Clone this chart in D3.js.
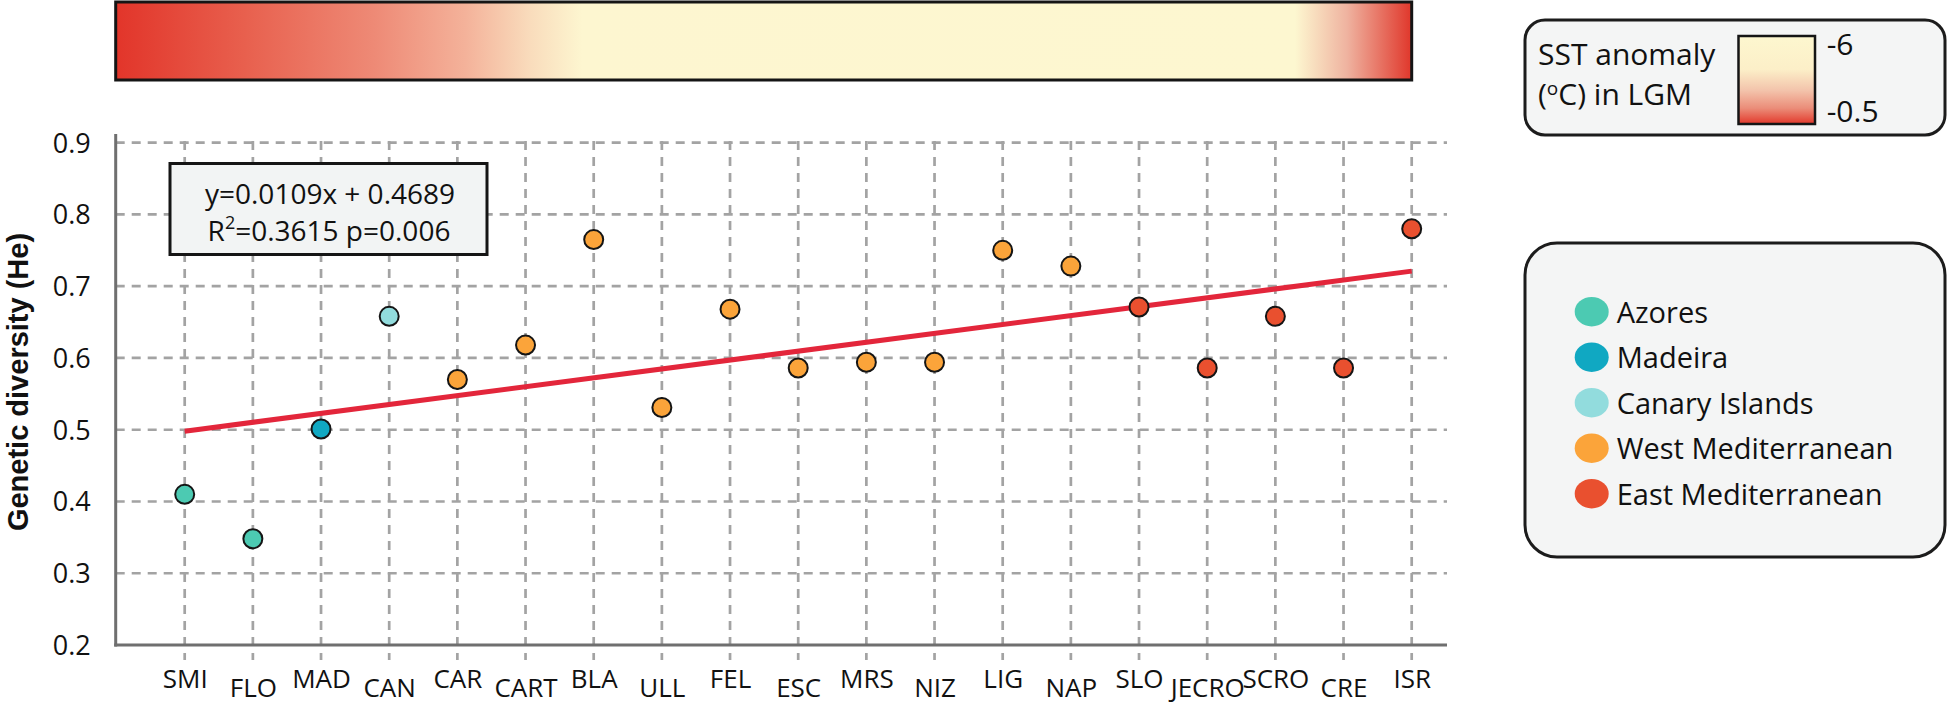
<!DOCTYPE html>
<html>
<head>
<meta charset="utf-8">
<script src="https://cdn.jsdelivr.net/npm/d3@7"></script>
<style>
  html, body { margin: 0; padding: 0; background: #ffffff; }
  svg { display: block; }
</style>
</head>
<body>
<script>
// ---------------- DATA ----------------
const categories = ["SMI","FLO","MAD","CAN","CAR","CART","BLA","ULL","FEL","ESC","MRS","NIZ","LIG","NAP","SLO","JECRO","SCRO","CRE","ISR"];
const heValues   = [0.410,0.348,0.501,0.658,0.570,0.618,0.765,0.531,0.668,0.586,0.594,0.594,0.750,0.728,0.671,0.586,0.658,0.586,0.780];
const siteRegion = ["Azores","Azores","Madeira","Canary Islands",
  "West Mediterranean","West Mediterranean","West Mediterranean","West Mediterranean","West Mediterranean",
  "West Mediterranean","West Mediterranean","West Mediterranean","West Mediterranean","West Mediterranean",
  "East Mediterranean","East Mediterranean","East Mediterranean","East Mediterranean","East Mediterranean"];
const legendNames  = ["Azores","Madeira","Canary Islands","West Mediterranean","East Mediterranean"];
const legendColors = ["#4ccab2","#10a8c2","#92dcdd","#fba43a","#e9502f"];
const yTicks = [0.2,0.3,0.4,0.5,0.6,0.7,0.8,0.9];
const trendValues = [0.498, 0.721];           // fitted He at first and last site
const equationLines = ["y=0.0109x + 0.4689", "=0.3615 p=0.006"];
// SST anomaly colour bar along the sites (offset along bar, colour)
const sstBarOffsets = [0, 0.10, 0.20, 0.27, 0.32, 0.36, 0.91, 0.95, 1];
const sstBarColors  = ["#e2352a","#e8604e","#ee8a76","#f4b29a","#f9dcbc","#fdf6d0","#fdf7d0","#efb3a0","#e0372b"];
const sstLegendOffsets = [0, 0.38, 0.62, 0.82, 1];
const sstLegendColors  = ["#fdf7cf","#fcefc8","#f3c3ab","#eb8d79","#e2382b"];
const sstLegendTicks = ["-6","-0.5"];

// ---------------- LAYOUT ----------------
const W = 1947, H = 705;
const fontMain = "'Open Sans', 'Noto Sans', sans-serif";
const svg = d3.select("body").append("svg").attr("width", W).attr("height", H)
  .style("background", "#fff");

const axisX = 115.7, axisY = 645, plotRight = 1447;
const x = d3.scalePoint().domain(categories).range([184.7, 1411.7]);
const y = d3.scaleLinear().domain([0.2, 0.9]).range([645, 142.7]);

const defs = svg.append("defs");
const g1 = defs.append("linearGradient").attr("id","sstBar").attr("x1","0%").attr("x2","100%").attr("y1","0%").attr("y2","0%");
sstBarOffsets.forEach((o,i)=> g1.append("stop").attr("offset", o).attr("stop-color", sstBarColors[i]));
const g2 = defs.append("linearGradient").attr("id","sstLeg").attr("x1","0%").attr("x2","0%").attr("y1","0%").attr("y2","100%");
sstLegendOffsets.forEach((o,i)=> g2.append("stop").attr("offset", o).attr("stop-color", sstLegendColors[i]));

// colour bar
svg.append("rect").attr("x", axisX).attr("y", 2)
  .attr("width", x(categories[categories.length-1]) - axisX).attr("height", 78)
  .attr("fill","url(#sstBar)").attr("stroke","#151515").attr("stroke-width",3);

// gridlines
const gridColor = "#a3a3a3";
svg.append("g").selectAll("line").data(yTicks.filter(t=>t>0.2)).join("line")
  .attr("x1", axisX).attr("x2", plotRight)
  .attr("y1", d=>y(d)).attr("y2", d=>y(d))
  .attr("stroke", gridColor).attr("stroke-width", 2.7).attr("stroke-dasharray","9,7");
svg.append("g").selectAll("line").data(categories).join("line")
  .attr("x1", d=>x(d)).attr("x2", d=>x(d))
  .attr("y1", 141).attr("y2", 660)
  .attr("stroke", gridColor).attr("stroke-width", 2.7).attr("stroke-dasharray","9,7");

// axes lines
svg.append("line").attr("x1", axisX).attr("x2", axisX).attr("y1", 134).attr("y2", axisY+1.5)
  .attr("stroke","#6f6f6f").attr("stroke-width",3);
svg.append("line").attr("x1", axisX-1.5).attr("x2", plotRight).attr("y1", axisY).attr("y2", axisY)
  .attr("stroke","#6f6f6f").attr("stroke-width",3);

// y axis labels
const yAxis = svg.append("g").attr("transform", `translate(${axisX},0)`)
  .call(d3.axisLeft(y).tickValues(yTicks).tickFormat(d3.format(".1f")).tickSize(0).tickPadding(25));
yAxis.select(".domain").remove();
yAxis.selectAll("text").attr("font-family", fontMain).attr("font-size", 27).attr("fill","#111")
  .attr("dy","0.35em");

// x axis labels
const xAxis = svg.append("g").attr("transform", `translate(0,${axisY})`)
  .call(d3.axisBottom(x).tickSize(0));
xAxis.select(".domain").remove();
xAxis.selectAll("text").attr("font-family", fontMain).attr("font-size", 26).attr("fill","#111")
  .attr("dy", null)
  .attr("y", (d,i)=> i % 2 === 0 ? 43 : 52);

// y title
svg.append("text").attr("transform","translate(28,382) rotate(-90)")
  .attr("text-anchor","middle").attr("font-family","'Liberation Sans', Arial, sans-serif")
  .attr("font-weight","bold").attr("font-size",29).attr("fill","#111")
  .text("Genetic diversity (He)");

// trend line
svg.append("line")
  .attr("x1", x(categories[0])).attr("y1", y(trendValues[0]))
  .attr("x2", x(categories[categories.length-1])).attr("y2", y(trendValues[1]))
  .attr("stroke","#e3263b").attr("stroke-width",5);

// points
const color = d3.scaleOrdinal().domain(legendNames).range(legendColors);
svg.append("g").selectAll("circle").data(categories).join("circle")
  .attr("cx", d=>x(d)).attr("cy", (d,i)=>y(heValues[i]))
  .attr("r", 9.5).attr("fill", (d,i)=>color(siteRegion[i]))
  .attr("stroke","#151515").attr("stroke-width",2);

// equation box
svg.append("rect").attr("x",170).attr("y",163.5).attr("width",317).attr("height",91)
  .attr("fill","#f2f4f4").attr("stroke","#151515").attr("stroke-width",3);
svg.append("text").attr("x",330).attr("y",204).attr("text-anchor","middle")
  .attr("font-family",fontMain).attr("font-size",28).attr("fill","#111").text(equationLines[0]);
const eq2 = svg.append("text").attr("x",329).attr("y",241).attr("text-anchor","middle")
  .attr("font-family",fontMain).attr("font-size",28).attr("fill","#111");
eq2.append("tspan").text("R");
eq2.append("tspan").attr("dy",-12).attr("font-size",18).text("2");
eq2.append("tspan").attr("dy",12).text(equationLines[1]);

// SST legend box
svg.append("rect").attr("x",1525).attr("y",20).attr("width",420).attr("height",115).attr("rx",20)
  .attr("fill","#f4f5f5").attr("stroke","#1c1c1c").attr("stroke-width",3);
svg.append("text").attr("x",1538).attr("y",65).attr("font-family",fontMain).attr("font-size",30)
  .attr("fill","#111").text("SST anomaly");
const lg2 = svg.append("text").attr("x",1538).attr("y",105).attr("font-family",fontMain).attr("font-size",30)
  .attr("fill","#111");
lg2.append("tspan").text("(");
lg2.append("tspan").attr("dy",-10).attr("font-size",19).text("o");
lg2.append("tspan").attr("dy",10).text("C) in LGM");
svg.append("rect").attr("x",1738.5).attr("y",36).attr("width",76.5).attr("height",88)
  .attr("fill","url(#sstLeg)").attr("stroke","#151515").attr("stroke-width",2.5);
svg.append("g").selectAll("text").data(sstLegendTicks).join("text")
  .attr("x",1826.7).attr("y",(d,i)=> i===0 ? 55 : 122)
  .attr("font-family",fontMain).attr("font-size",30).attr("fill","#111").text(d=>d);

// region legend
svg.append("rect").attr("x",1525).attr("y",243).attr("width",420).attr("height",314).attr("rx",32)
  .attr("fill","#f4f5f5").attr("stroke","#1c1c1c").attr("stroke-width",3);
const leg = svg.append("g").selectAll("g").data(legendNames).join("g")
  .attr("transform",(d,i)=>`translate(0,${311.7 + i*45.5})`);
leg.append("ellipse").attr("cx",1591.7).attr("cy",0).attr("rx",17).attr("ry",14.7)
  .attr("fill", d=>color(d));
leg.append("text").attr("x",1616.7).attr("y",11).attr("font-family",fontMain).attr("font-size",29)
  .attr("fill","#111").text(d=>d);
</script>
</body>
</html>
